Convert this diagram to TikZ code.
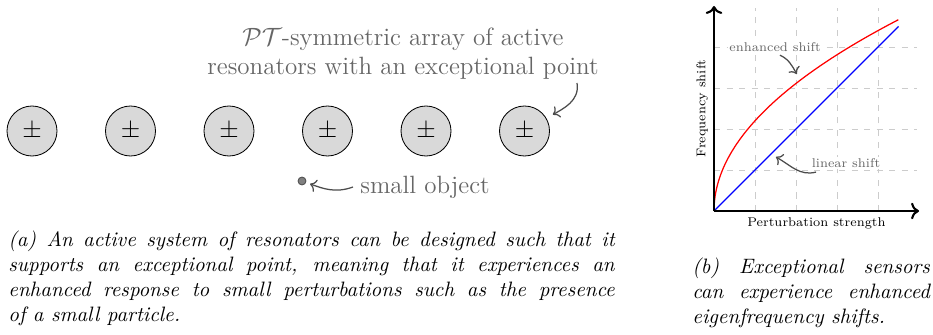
\documentclass[tikz,border=0pt]{standalone}
\usepackage{amsmath}
\usepackage{tikz}
\usetikzlibrary{arrows.meta, positioning, calc}

\begin{document}
\begin{tikzpicture}[x=0.48pt,y=0.48pt,>=To,
    resonator/.style={circle, draw, fill=black!15, minimum size=24pt, inner sep=0pt, font=\large},
    note/.style={text=black!60, font=\large},
    pointer/.style={->, black!70, semithick},
    gridline/.style={black!20, dashed},
    axis/.style={->, line width=1pt},
    small/.style={font=\scriptsize, scale=0.87, transform shape},
    plotnote/.style={small, text=black!60, fill=white, inner sep=1pt},
    caption/.style={anchor=north west, inner sep=0pt, align=justify, font=\itshape}]

\useasboundingbox (0,0) rectangle (933,334);

% Resonators
\foreach \i/\x in {1/32,2/130.5,3/229,4/327.5,5/426,6/524.5} {
    \node[resonator] (R\i) at (\x,203) {$\pm$};
}

% Array label
\node[note, align=center] (title) at (403,280) {$\mathcal{PT}$-symmetric array of active\\resonators with an exceptional point};
\coordinate (tstart) at (577,251);
\draw[pointer, shorten >=3.5pt] (tstart) to[out=-80,in=30] (R6.30);

% Small object
\node[circle, draw=black!70, fill=black!50, minimum size=3.8pt, inner sep=0pt] (obj) at (302,153) {};
\node[note, anchor=west] (objlabel) at (353,147) {small object};
\draw[pointer, shorten >=2pt] (objlabel.west) to[out=200,in=-20] (obj);

% Frequency shift plot
\begin{scope}[shift={(714,123)}, x=19.68pt, y=19.68pt]
    \coordinate (origin) at (0,0);
    \coordinate (xend) at (5,0);
    \coordinate (yend) at (0,5);
    \draw[gridline, step=1] (0,0) grid (4.95,4.95);
    \draw[blue, semithick] (origin) -- (4.5,4.5);
    \draw[red, semithick, domain=0:2.1213, samples=80, smooth, variable=\t] plot ({\t*\t},{2.2*\t});
    \draw[axis] (origin) -- (xend);
    \draw[axis] (origin) -- (yend);

    \node[small] (xlabel) at (2.5,-0.3) {Perturbation strength};
    \node[small, rotate=90] (ylabel) at (-0.29,2.5) {Frequency shift};

    \node[plotnote] (enh) at (1.49,4.0) {enhanced shift};
    \coordinate (enhfrom) at (1.61,3.80);
    \coordinate (enhto) at (2.02,3.34);
    \draw[pointer] (enhfrom) to[out=-25,in=120] (enhto);

    \node[plotnote] (lin) at (3.22,1.17) {linear shift};
    \coordinate (linfrom) at (2.49,0.95);
    \coordinate (linto) at (1.51,1.32);
    \draw[pointer] (linfrom) to[out=195,in=-30] (linto);
\end{scope}

% Captions
\node[caption, text width=291pt] (capa) at (8,104) {\hyphenpenalty=10000 (a) An active system of resonators can be designed such that it\linebreak supports an exceptional point, meaning that it experiences an\linebreak enhanced response to small perturbations such as the presence\linebreak of a small particle.};
\node[caption, text width=114pt] (capb) at (692,77) {(b) Exceptional sensors\linebreak can experience enhanced\linebreak eigenfrequency shifts.};

\end{tikzpicture}
\end{document}
